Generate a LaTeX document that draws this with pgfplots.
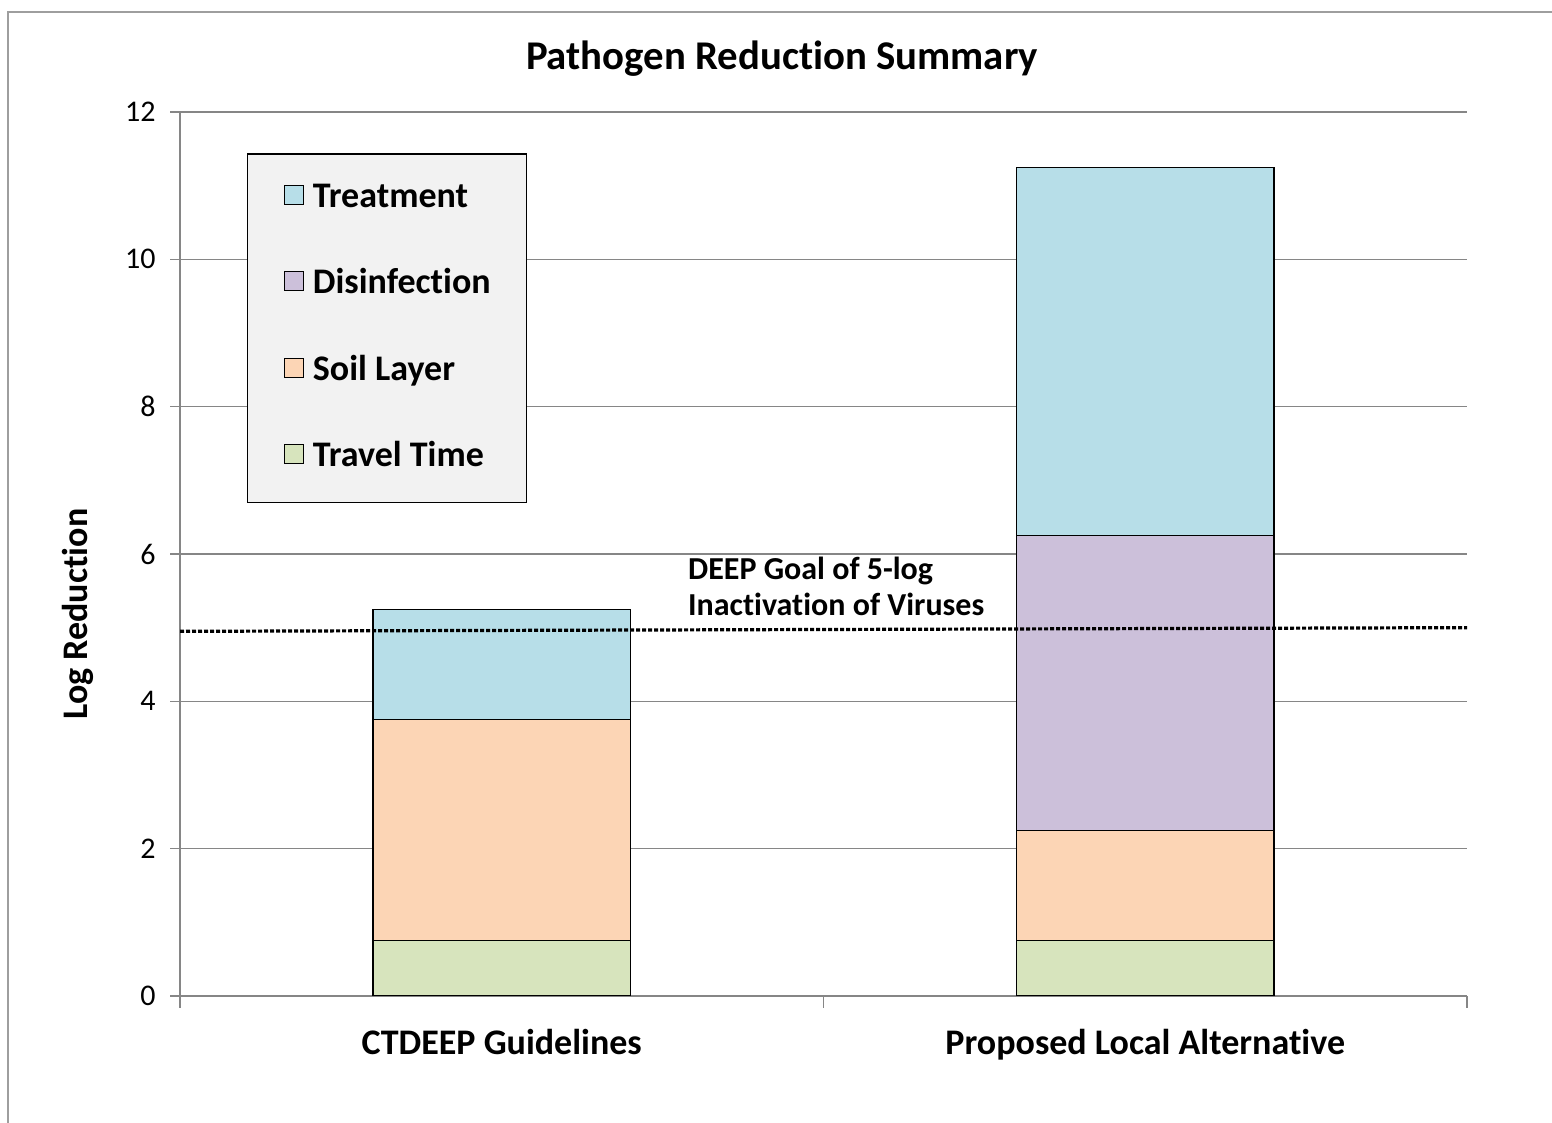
\documentclass[border=0pt]{standalone}
\usepackage{pgfplots}
\pgfplotsset{compat=1.18}
\usepackage{fontspec}
\setmainfont[Ligatures=NoCommon]{Carlito}
\definecolor{treat}{HTML}{B7DEE8}
\definecolor{disinf}{HTML}{CCC0DA}
\definecolor{soil}{HTML}{FCD5B5}
\definecolor{travel}{HTML}{D7E4BD}
\definecolor{axgray}{HTML}{868686}
\definecolor{leggray}{HTML}{F2F2F2}
\begin{document}
\begin{tikzpicture}
\useasboundingbox (0,0) rectangle (776pt,561.5pt);
\draw[color=axgray!80, line width=0.7pt] (4pt,0) -- (4pt,555.5pt) -- (776pt,555.5pt);
\node[font=\fontsize{20.4}{24}\selectfont\bfseries] at (391pt,532pt) {Pathogen Reduction Summary};
\begin{axis}[
  at={(90pt,63.5pt)}, anchor=south west,
  scale only axis, width=643.5pt, height=442pt,
  ybar stacked, bar width=0.4,
  xmin=-0.5, xmax=1.5, ymin=0, ymax=12,
  ytick={0,2,...,12},
  xtick={0,1}, xticklabels={CTDEEP Guidelines, Proposed Local Alternative},
  minor xtick={-0.5,0.5,1.5},
  axis lines*=left,
  axis line style={axgray, line width=0.75pt},
  tick align=outside,
  tick style={axgray, line width=0.75pt},
  major tick length=5pt, minor tick length=6pt,
  major x tick style={draw=none},
  ymajorgrids=true,
  major grid style={axgray, line width=0.75pt},
  /pgf/number format/assume math mode=true,
  yticklabel style={font=\fontsize{15}{18}\selectfont, inner sep=0pt, xshift=-7pt},
  xticklabel style={font=\fontsize{18}{21}\selectfont\bfseries, anchor=north, inner sep=0pt, yshift=-11.5pt},
  ylabel={Log Reduction},
  every axis y label/.style={at={(rel axis cs:0,0.432)}, xshift=-51pt, rotate=90, anchor=center, font=\fontsize{18}{21}\selectfont\bfseries},
  reverse legend,
  legend cell align=left,
  legend image code/.code={\draw[#1, draw=black, line width=0.6pt] (0pt,-3pt) rectangle (9.5pt,6.5pt);},
  legend style={at={(rel axis cs:0.052,0.9536)}, anchor=north west, fill=leggray, draw=black, line width=0.75pt,
    font=\fontsize{18}{21}\selectfont\bfseries, inner xsep=18pt, inner ysep=13.75pt, row sep=26.25pt, column sep=4.5pt,
    nodes={inner sep=0pt, text height=13pt, text depth=4pt}},
]
\addplot[fill=travel, draw=black, line width=0.7pt] coordinates {(0,0.75) (1,0.75)};
\addplot[fill=soil, draw=black, line width=0.7pt] coordinates {(0,3) (1,1.5)};
\addplot[fill=disinf, draw=black, line width=0.7pt] coordinates {(0,0) (1,4)};
\addplot[fill=treat, draw=black, line width=0.7pt] coordinates {(0,1.5) (1,5)};
\legend{Travel Time, Soil Layer, Disinfection, Treatment}
\node[anchor=base west, font=\fontsize{16}{18}\selectfont\bfseries, inner sep=0pt] at (axis cs:0.289,5.65) {DEEP Goal of 5-log};
\node[anchor=base west, font=\fontsize{16}{18}\selectfont\bfseries, inner sep=0pt] at (axis cs:0.289,5.16) {Inactivation of Viruses};
\end{axis}
\begin{axis}[
  at={(90pt,63.5pt)}, anchor=south west,
  scale only axis, width=643.5pt, height=442pt,
  xmin=-0.5, xmax=1.5, ymin=0, ymax=12,
  hide axis,
]
\addplot[black, line width=1.6pt, dash pattern=on 2pt off 1pt] coordinates {(-0.5,4.95) (1.5,5.0)};
\end{axis}
\end{tikzpicture}
\end{document}
